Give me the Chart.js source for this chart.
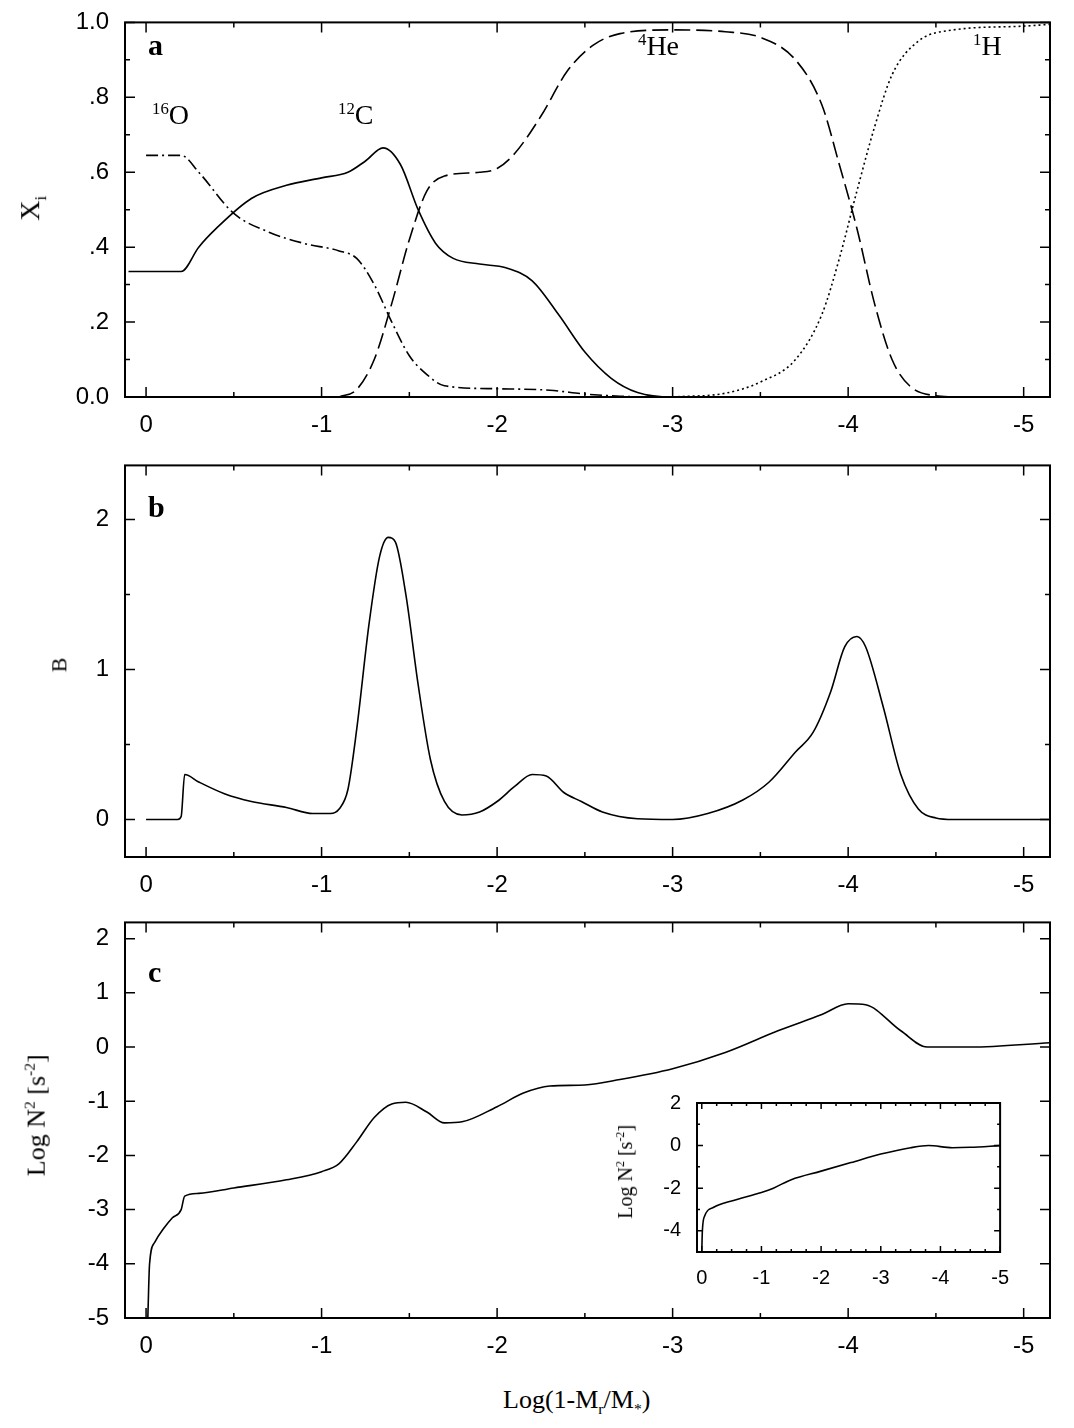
<!DOCTYPE html>
<html>
<head>
<meta charset="utf-8">
<script src="https://cdn.jsdelivr.net/npm/chart.js@4.4.1/dist/chart.umd.min.js"></script>
<style>
  body { margin:0; background:#fff; width:1074px; height:1428px; position:relative; overflow:hidden; }
  canvas { position:absolute; }
  .lab { position:absolute; font-family:"Liberation Serif","Times New Roman",serif; color:#000; white-space:nowrap; }
  .lab sup, .lab sub { font-size:60%; }
  .rot { transform:rotate(-90deg); transform-origin:center center; }
  .bold { font-weight:bold; font-size:30px; }
</style>
</head>
<body>
<canvas id="ca" style="left:0;top:0"></canvas>
<canvas id="cb" style="left:0;top:443px"></canvas>
<canvas id="cc" style="left:0;top:900px"></canvas>
<canvas id="ci" style="left:600px;top:1083px"></canvas>

<div class="lab bold" style="left:148px;top:28px">a</div>
<div class="lab bold" style="left:148px;top:490px">b</div>
<div class="lab bold" style="left:148px;top:955px">c</div>
<div class="lab" style="left:152px;top:99px;font-size:28px"><sup>16</sup>O</div>
<div class="lab" style="left:338px;top:99px;font-size:28px"><sup>12</sup>C</div>
<div class="lab" style="left:638px;top:30px;font-size:28px"><sup>4</sup>He</div>
<div class="lab" style="left:973px;top:30px;font-size:28px"><sup>1</sup>H</div>
<div class="lab rot" style="left:20px;top:190px;font-size:28px">X<sub>i</sub></div>
<div class="lab rot" style="left:52px;top:652px;font-size:22px">B</div>
<div class="lab rot" style="left:-25px;top:1100px;font-size:26px">Log N<sup>2</sup> [s<sup>-2</sup>]</div>
<div class="lab rot" style="left:578px;top:1160px;font-size:20px">Log N<sup>2</sup> [s<sup>-2</sup>]</div>
<div class="lab" style="left:503px;top:1385px;font-size:26px">Log(1-M<sub>r</sub>/M<sub>*</sub>)</div>

<script>
// ---- data (x = Log(1-Mr/M*)) ----
var c12X = [0.1, -0.2, -0.3, -0.4, -0.6, -0.8, -1.0, -1.15, -1.25, -1.35, -1.45, -1.55, -1.65, -1.75, -1.9, -2.05, -2.2, -2.35, -2.5, -2.65, -2.8, -3.0, -5.15];
var c12Y = [0.335, 0.335, 0.4, 0.45, 0.53, 0.565, 0.585, 0.6, 0.63, 0.665, 0.62, 0.5, 0.41, 0.37, 0.355, 0.345, 0.31, 0.22, 0.12, 0.05, 0.012, 0.0, 0.0];
var o16X = [0.0, -0.2, -0.3, -0.5, -0.7, -0.9, -1.1, -1.2, -1.3, -1.4, -1.5, -1.6, -1.7, -2.0, -2.3, -2.5, -2.7, -3.0, -5.15];
var o16Y = [0.645, 0.645, 0.6, 0.49, 0.44, 0.41, 0.39, 0.37, 0.3, 0.2, 0.11, 0.06, 0.03, 0.022, 0.018, 0.008, 0.002, 0.0, 0.0];
var he4X = [-1.1, -1.2, -1.3, -1.4, -1.5, -1.6, -1.7, -1.9, -2.0, -2.1, -2.25, -2.4, -2.55, -2.7, -3.0, -3.3, -3.5, -3.7, -3.85, -3.95, -4.05, -4.15, -4.25, -4.35, -4.5, -4.6];
var he4Y = [0.0, 0.02, 0.1, 0.25, 0.42, 0.55, 0.59, 0.6, 0.61, 0.65, 0.75, 0.87, 0.94, 0.97, 0.98, 0.975, 0.96, 0.9, 0.78, 0.62, 0.45, 0.25, 0.1, 0.03, 0.003, 0.0];
var h1X = [-3.0, -3.3, -3.5, -3.7, -3.85, -3.95, -4.05, -4.15, -4.25, -4.4, -4.6, -5.0, -5.15];
var h1Y = [0.0, 0.01, 0.04, 0.1, 0.22, 0.37, 0.55, 0.72, 0.86, 0.95, 0.98, 0.99, 0.995];

var bX = [0.0, -0.18, -0.2, -0.22, -0.3, -0.45, -0.6, -0.8, -0.95, -1.05, -1.1, -1.15, -1.2, -1.27, -1.33, -1.38, -1.42, -1.48, -1.55, -1.62, -1.7, -1.8, -1.9, -2.0, -2.1, -2.2, -2.28, -2.38, -2.48, -2.6, -2.8, -3.0, -3.2, -3.4, -3.55, -3.7, -3.8, -3.9, -3.98, -4.05, -4.1, -4.2, -4.3, -4.4, -4.5, -4.6, -5.15];
var bY = [0.0, 0.0, 0.02, 0.3, 0.25, 0.17, 0.12, 0.08, 0.04, 0.04, 0.07, 0.2, 0.6, 1.3, 1.75, 1.88, 1.85, 1.5, 0.9, 0.4, 0.12, 0.03, 0.05, 0.12, 0.22, 0.3, 0.29, 0.18, 0.12, 0.05, 0.005, 0.0, 0.04, 0.13, 0.25, 0.45, 0.58, 0.85, 1.15, 1.22, 1.15, 0.75, 0.3, 0.07, 0.01, 0.0, 0.0];

var nX = [-0.01, -0.02, -0.05, -0.1, -0.15, -0.2, -0.22, -0.3, -0.5, -0.8, -1.0, -1.1, -1.2, -1.3, -1.4, -1.48, -1.6, -1.7, -1.8, -2.0, -2.15, -2.3, -2.5, -2.7, -3.0, -3.3, -3.6, -3.85, -4.0, -4.1, -4.3, -4.45, -4.7, -5.15];
var nY = [-5.0, -4.0, -3.6, -3.35, -3.15, -3.0, -2.75, -2.7, -2.6, -2.45, -2.3, -2.15, -1.75, -1.3, -1.05, -1.02, -1.2, -1.4, -1.38, -1.1, -0.85, -0.72, -0.7, -0.6, -0.4, -0.1, 0.3, 0.6, 0.8, 0.78, 0.3, 0.0, 0.0, 0.08];

var insX = [0.0, -0.01, -0.05, -0.2, -0.5, -1.0, -1.2, -1.5, -2.0, -2.5, -3.0, -3.5, -3.8, -4.2, -4.5, -5.0];
var insY = [-5.0, -4.0, -3.3, -2.9, -2.6, -2.2, -2.0, -1.6, -1.2, -0.8, -0.4, -0.1, 0.0, -0.1, -0.08, 0.0];

var xTicks = [0, -1, -2, -3, -4, -5];

function pts(xs, ys) { return xs.map(function (x, i) { return { x: x, y: ys[i] }; }); }

function line(xs, ys, dash) {
  return { data: pts(xs, ys), borderColor: '#000', borderWidth: 1.6, borderDash: dash || [],
           pointRadius: 0, cubicInterpolationMode: 'monotone', fill: false };
}

// inward ticks + frame
var frame = {
  id: 'frame',
  afterDraw: function (chart, args, o) {
    var a = chart.chartArea, ctx = chart.ctx, xs = chart.scales.x, ys = chart.scales.y;
    ctx.save();
    ctx.strokeStyle = '#000';
    ctx.lineWidth = 2;
    ctx.strokeRect(a.left, a.top, a.right - a.left, a.bottom - a.top);
    ctx.lineWidth = 1.5;
    ctx.beginPath();
    o.xMajor.forEach(function (v) {
      var p = xs.getPixelForValue(v);
      ctx.moveTo(p, a.bottom); ctx.lineTo(p, a.bottom - o.len);
      ctx.moveTo(p, a.top); ctx.lineTo(p, a.top + o.len);
    });
    o.xMinor.forEach(function (v) {
      var p = xs.getPixelForValue(v);
      ctx.moveTo(p, a.bottom); ctx.lineTo(p, a.bottom - o.len / 2);
      ctx.moveTo(p, a.top); ctx.lineTo(p, a.top + o.len / 2);
    });
    o.yMajor.forEach(function (v) {
      var p = ys.getPixelForValue(v);
      ctx.moveTo(a.left, p); ctx.lineTo(a.left + o.len, p);
      ctx.moveTo(a.right, p); ctx.lineTo(a.right - o.len, p);
    });
    o.yMinor.forEach(function (v) {
      var p = ys.getPixelForValue(v);
      ctx.moveTo(a.left, p); ctx.lineTo(a.left + o.len / 2, p);
      ctx.moveTo(a.right, p); ctx.lineTo(a.right - o.len / 2, p);
    });
    ctx.stroke();
    ctx.restore();
  }
};

function make(id, w, h, datasets, cfg) {
  var el = document.getElementById(id);
  el.width = w; el.height = h;
  el.style.width = w + 'px'; el.style.height = h + 'px';
  return new Chart(el, {
    type: 'line',
    data: { datasets: datasets },
    plugins: [frame],
    options: {
      responsive: false, animation: false, devicePixelRatio: 1,
      layout: { padding: { top: 12, right: cfg.padR, left: 0, bottom: 0 } },
      plugins: { legend: { display: false }, tooltip: { enabled: false },
                 frame: { xMajor: cfg.xMajor, xMinor: cfg.xMinor, yMajor: cfg.yMajor, yMinor: cfg.yMinor, len: cfg.len } },
      scales: {
        x: { type: 'linear', reverse: true, min: cfg.xmin, max: cfg.xmax,
             grid: { display: false }, border: { display: false },
             afterBuildTicks: function (s) { s.ticks = cfg.xMajor.map(function (v) { return { value: v }; }); },
             afterFit: function (s) { s.height = cfg.xh; },
             ticks: { color: '#000', font: { family: 'Liberation Sans', size: cfg.fs }, padding: 6, maxRotation: 0,
                      callback: function (v) { return String(v); } } },
        y: { type: 'linear', min: cfg.ymin, max: cfg.ymax,
             grid: { display: false }, border: { display: false },
             afterBuildTicks: function (s) { s.ticks = cfg.yMajor.map(function (v) { return { value: v }; }); },
             afterFit: function (s) { s.width = cfg.yw; },
             ticks: { color: '#000', font: { family: 'Liberation Sans', size: cfg.fs }, padding: 8,
                      callback: cfg.yfmt || function (v) { return String(v); } } }
      }
    }
  });
}

var xMinor = [-0.5, -1.5, -2.5, -3.5, -4.5];

make('ca', 1074, 437, [
  line(c12X, c12Y),
  line(o16X, o16Y, [12, 4, 2, 4]),
  line(he4X, he4Y, [16, 6]),
  line(h1X, h1Y, [2, 3])
], { padR: 24, yw: 125, xh: 40, fs: 24, len: 10, xmin: -5.15, xmax: 0.12, ymin: 0, ymax: 1.0,
     xMajor: xTicks, xMinor: xMinor, yMajor: [0, 0.2, 0.4, 0.6, 0.8, 1.0], yMinor: [0.1, 0.3, 0.5, 0.7, 0.9],
     yfmt: function (v) { return v === 0 ? '0.0' : v === 1 ? '1.0' : String(v.toFixed(1)).replace('0.', '.'); } });

make('cb', 1074, 454, [ line(bX, bY) ],
   { padR: 24, yw: 125, xh: 40, fs: 24, len: 10, xmin: -5.15, xmax: 0.12, ymin: -0.25, ymax: 2.36,
     xMajor: xTicks, xMinor: xMinor, yMajor: [0, 1, 2], yMinor: [0.5, 1.5] });

make('cc', 1074, 458, [ line(nX, nY) ],
   { padR: 24, yw: 125, xh: 40, fs: 24, len: 10, xmin: -5.15, xmax: 0.12, ymin: -5, ymax: 2.3,
     xMajor: xTicks, xMinor: xMinor, yMajor: [-5, -4, -3, -2, -1, 0, 1, 2], yMinor: [] });

make('ci', 415, 207, [ line(insX, insY) ],
   { padR: 10, yw: 97, xh: 38, fs: 20, len: 6, xmin: -5.0, xmax: 0.08, ymin: -5, ymax: 2,
     xMajor: xTicks, xMinor: [-0.25, -0.5, -0.75, -1.25, -1.5, -1.75, -2.25, -2.5, -2.75, -3.25, -3.5, -3.75, -4.25, -4.5, -4.75],
     yMajor: [-4, -2, 0, 2], yMinor: [-5, -3, -1, 1] });
</script>
</body>
</html>
